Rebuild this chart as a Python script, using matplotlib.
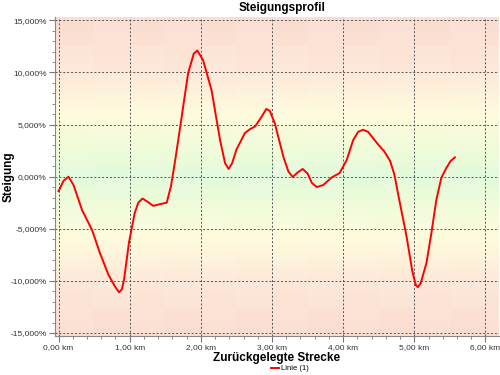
import matplotlib
matplotlib.use("Agg")
import matplotlib.pyplot as plt
import numpy as np
from matplotlib.colors import LinearSegmentedColormap
from matplotlib.ticker import MultipleLocator, FuncFormatter

plt.rcParams['font.family'] = ['Liberation Sans', 'DejaVu Sans']

# Strecke in km, Steigung in %
strecke = [0.00, 0.07, 0.14, 0.21, 0.33, 0.47, 0.58, 0.70, 0.79, 0.85, 0.89, 0.92,
           0.99, 1.07, 1.12, 1.18, 1.25, 1.33, 1.45, 1.52, 1.58, 1.64, 1.71, 1.82,
           1.90, 1.95, 2.03, 2.15, 2.27, 2.34, 2.39, 2.44, 2.50, 2.62, 2.70, 2.76,
           2.84, 2.92, 2.97, 3.04, 3.16, 3.23, 3.29, 3.36, 3.43, 3.50, 3.56, 3.63,
           3.72, 3.84, 3.95, 4.05, 4.14, 4.21, 4.28, 4.35, 4.49, 4.58, 4.66, 4.72,
           4.77, 4.89, 4.97, 5.02, 5.05, 5.09, 5.17, 5.24, 5.31, 5.38, 5.45, 5.51, 5.57]
steigung = [-1.4, -0.4, 0.0, -0.8, -3.2, -5.1, -7.3, -9.4, -10.5, -11.1, -10.8, -9.9,
            -6.3, -3.5, -2.5, -2.1, -2.4, -2.8, -2.6, -2.5, -0.9, 1.6, 4.8, 9.9,
            11.8, 12.1, 11.2, 8.3, 3.5, 1.3, 0.74, 1.3, 2.6, 4.2, 4.6, 4.8,
            5.6, 6.5, 6.3, 5.1, 1.9, 0.5, -0.03, 0.4, 0.74, 0.3, -0.6, -1.0,
            -0.8, -0.07, 0.35, 1.6, 3.5, 4.3, 4.5, 4.3, 3.1, 2.4, 1.5, 0.2,
            -1.6, -5.7, -9.0, -10.4, -10.6, -10.2, -8.3, -5.4, -2.2, -0.1, 0.83, 1.5, 1.85]

x_min, x_max = -0.05, 6.19
y_min, y_max = -15.25, 15.33

fig = plt.figure(figsize=(5, 3.75), dpi=100)
ax = fig.add_axes([0.11, 0.105, 0.888, 0.85])

# hintergrund: rot - gelb - gruen - gelb - rot
cmap = LinearSegmentedColormap.from_list("steig", [
    (0.0, "#fbdcd0"), (0.17, "#fde8d8"), (0.30, "#fffbdc"), (0.42, "#eefcd8"),
    (0.5, "#e2fadc"), (0.58, "#eefcd8"), (0.70, "#fffbdc"), (0.83, "#fde8d8"),
    (1.0, "#fbdcd0")])
grad = np.linspace(0, 1, 300).reshape(-1, 1)
ax.imshow(grad, cmap=cmap, aspect="auto", extent=[x_min, x_max, y_min, y_max],
          origin="lower", zorder=0)
# leichtes schachbrett
for i in range(13):
    for j in range(-7, 7):
        if (i + j) % 2 == 0:
            ax.add_patch(plt.Rectangle((i * 0.5, j * 2.5), 0.5, 2.5, color="white",
                                       alpha=0.09, lw=0, zorder=0.5))

ax.plot(strecke, steigung, color="#ff0000", lw=1.4, zorder=3, label="Linie (1)")

ax.set_xlim(x_min, x_max)
ax.set_ylim(y_min, y_max)
ax.xaxis.set_major_locator(MultipleLocator(1))
ax.xaxis.set_minor_locator(MultipleLocator(0.2))
ax.yaxis.set_major_locator(MultipleLocator(5))
ax.yaxis.set_minor_locator(MultipleLocator(1))
ax.xaxis.set_major_formatter(FuncFormatter(lambda v, p: ("%.2f km" % v).replace(".", ",")))
ax.yaxis.set_major_formatter(FuncFormatter(lambda v, p: ("%.3f%%" % v).replace(".", ",").replace("-0,000", "0,000")))
ax.grid(True, which="major", color="#555555", ls=(0, (2, 2)), lw=0.7, zorder=1)
ax.tick_params(which="major", length=4, width=0.8, color="#777777", labelsize=6.0,
               labelcolor="#333333", pad=2)
ax.tick_params(which="minor", length=2, width=0.6, color="#777777")
for s in ["top", "right"]:
    ax.spines[s].set_visible(False)
for s in ["left", "bottom"]:
    ax.spines[s].set_color("#888888")

fig.text(0.565, 0.978, "Steigungsprofil", ha="center", va="center", fontsize=8.5, fontweight="bold")
ax.set_xlabel("Zurückgelegte Strecke", fontsize=8.5, fontweight="bold", labelpad=1)
fig.text(0.018, 0.528, "Steigung", rotation=90, ha="center", va="center",
         fontsize=8.5, fontweight="bold")
ax.legend(loc="upper center", fontsize=5.5, frameon=False, handlelength=1.0,
          handletextpad=0.3, borderaxespad=0).set_bbox_to_anchor((0.58, 0.035), transform=fig.transFigure)

fig.savefig("out.png", dpi=100)
